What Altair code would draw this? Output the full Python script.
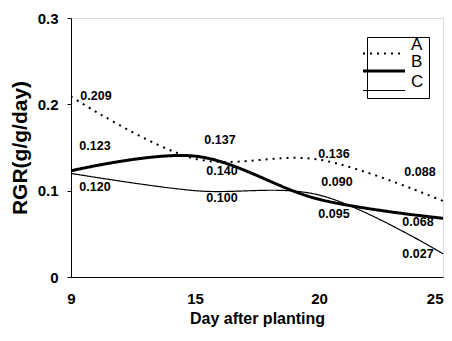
import altair as alt
import pandas as pd

days = ["9", "15", "20", "25"]
series_names = ["A", "B", "C"]
rgr_a = [0.209, 0.137, 0.136, 0.088]
rgr_b = [0.123, 0.140, 0.090, 0.068]
rgr_c = [0.120, 0.100, 0.095, 0.027]

# pixel offsets of the value annotations (placement only)
label_dx = {"A": [25, 25, 15, -23], "B": [24, 27, 18, -25], "C": [24, 27, 15, -25]}
label_dy = {"A": [-1, -19, -6, -29], "B": [-25, 15, -17, 4], "C": [14, 7, 19, 0]}

rows = []
for name, vals in zip(series_names, [rgr_a, rgr_b, rgr_c]):
    for d, v in zip(days, vals):
        rows.append({"day": d, "rgr": v, "series": name})
df = pd.DataFrame(rows)

FONT = "Liberation Sans"

x_enc = alt.X(
    "day:O", sort=days,
    scale=alt.Scale(type="point", padding=0, domain=days),
    axis=alt.Axis(title="Day after planting", labelAngle=0, labelFontSize=15,
                  labelFontWeight="bold", labelFont=FONT, labelPadding=14,
                  labelAlign={"condition": {"test": "datum.label == '25'", "value": "right"}, "value": "center"},
                  ticks=False, domainColor="black", titleFontSize=16,
                  titleFontWeight="bold", titleFont=FONT, titlePadding=4,
                  titleColor="black", labelColor="black"),
)
y_enc = alt.Y(
    "rgr:Q",
    scale=alt.Scale(domain=[0, 0.3], nice=False, zero=True),
    axis=alt.Axis(title="RGR(g/g/day)", values=[0, 0.1, 0.2, 0.3], format=".1~f",
                  grid=False, labelFontSize=15, labelFontWeight="bold", labelFont=FONT,
                  labelPadding=9, tickSize=4, tickColor="black", domainColor="black",
                  titleFontSize=21, titleFontWeight="bold", titleFont=FONT,
                  titlePadding=7, titleColor="black", labelColor="black"),
)

legend = alt.Legend(
    title=None, orient="none", legendX=296, legendY=19,
    symbolType="M-2,0H2", symbolSize=441, symbolStrokeColor="black",
    labelFontSize=17, labelFont=FONT, labelColor="black", labelOffset=15,
    labelBaseline="bottom", strokeColor="black", padding=5, fillColor="white",
    rowPadding=-5,
)

lines = alt.Chart(df).mark_line(interpolate="catmull-rom", color="black").encode(
    x=x_enc,
    y=y_enc,
    strokeDash=alt.StrokeDash("series:N", scale=alt.Scale(domain=series_names, range=[[2, 5], [1, 0], [1, 0]]), legend=legend),
    strokeWidth=alt.StrokeWidth("series:N", scale=alt.Scale(type="ordinal", domain=series_names, range=[2, 3, 1.2]), legend=legend),
)

layers = [lines]
for name, vals in zip(series_names, [rgr_a, rgr_b, rgr_c]):
    for i, (d, v) in enumerate(zip(days, vals)):
        sub = pd.DataFrame([{"day": d, "rgr": v, "series": name}])
        t = alt.Chart(sub).mark_text(
            dx=label_dx[name][i], dy=label_dy[name][i], font=FONT, fontSize=12.5,
            fontWeight="bold", color="black",
        ).encode(
            x=alt.X("day:O", sort=days, scale=alt.Scale(type="point", padding=0, domain=days)),
            y=alt.Y("rgr:Q"),
            text=alt.Text("rgr:Q", format=".3f"),
        )
        layers.append(t)

chart = alt.layer(*layers).properties(
    width=372, height=259,
    autosize="none",
    padding={"left": 63, "top": 10, "right": 1, "bottom": 56},
).configure_view(stroke="#888", strokeDash=[3, 1]).configure(background="white")

chart.save("out.html", embed_options={"renderer": "svg", "actions": False})
